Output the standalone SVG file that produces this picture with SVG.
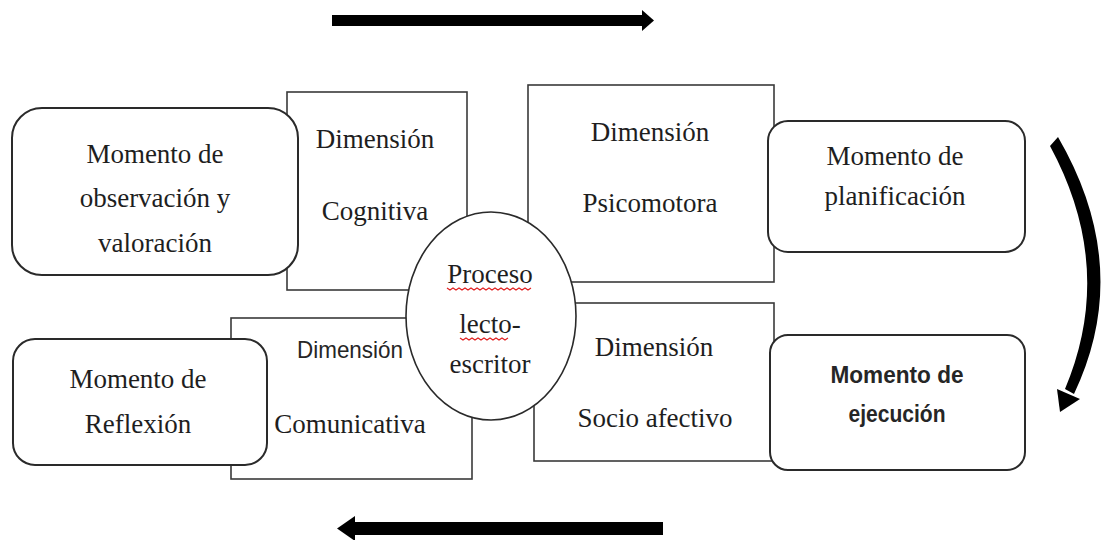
<svg xmlns="http://www.w3.org/2000/svg" width="1101" height="540" viewBox="0 0 1101 540">
<style>
.dim{fill:#fff;stroke:#3a3a3a;stroke-width:1.6}
.mom{fill:#fff;stroke:#2a2a2a;stroke-width:2}
.ser{font-family:"Liberation Serif","Times New Roman",serif;font-size:27px;fill:#1e1e1e;text-anchor:middle}
.san{font-family:"Liberation Sans",Arial,sans-serif;fill:#262626;text-anchor:middle}
.arr{fill:#000}
.sq{fill:none;stroke:#e02020;stroke-width:1.2}
</style>
<rect width="1101" height="540" fill="#fff"/>
<g id="connectors">
  <g id="arrow-top">
    <rect class="arr" x="332" y="15" width="312" height="11"/>
    <polygon class="arr" points="642,10 654,20.5 642,31"/>
  </g>
  <g id="arrow-bottom">
    <rect class="arr" x="352" y="522" width="311" height="13"/>
    <polygon class="arr" points="355,516 337,528.5 355,541"/>
  </g>
  <g id="arrow-right">
    <path class="arr" d="M1058,137 Q1134,268 1074,394 L1065,389 Q1116,268 1050,146 Z"/>
    <polygon class="arr" points="1060,412 1057,389 1080,399"/>
  </g>
</g>
<g id="dim-cognitiva">
  <rect class="dim" x="287" y="92" width="180" height="198"/>
  <text class="ser" x="375" y="148">Dimensión</text>
  <text class="ser" x="375" y="220">Cognitiva</text>
</g>
<g id="dim-psicomotora">
  <rect class="dim" x="528" y="85" width="246" height="197"/>
  <text class="ser" x="650" y="141">Dimensión</text>
  <text class="ser" x="650" y="212">Psicomotora</text>
</g>
<g id="dim-comunicativa">
  <rect class="dim" x="231" y="318" width="241" height="161"/>
  <text class="san" x="350" y="358" font-size="24" textLength="106" lengthAdjust="spacingAndGlyphs">Dimensión</text>
  <text class="ser" x="350" y="433">Comunicativa</text>
</g>
<g id="dim-socio">
  <rect class="dim" x="534" y="303" width="240" height="158"/>
  <text class="ser" x="654" y="356">Dimensión</text>
  <text class="ser" x="655" y="427">Socio afectivo</text>
</g>
<g id="mom-observacion">
  <rect class="mom" x="12" y="108" width="286" height="167" rx="30"/>
  <text class="ser" x="155" y="163">Momento de</text>
  <text class="ser" x="155" y="207">observación y</text>
  <text class="ser" x="155" y="252">valoración</text>
</g>
<g id="mom-reflexion">
  <rect class="mom" x="13" y="339" width="254" height="126" rx="22"/>
  <text class="ser" x="138" y="388">Momento de</text>
  <text class="ser" x="138" y="433">Reflexión</text>
</g>
<g id="mom-planificacion">
  <rect class="mom" x="768" y="121" width="257" height="131" rx="20"/>
  <text class="ser" x="895" y="165" font-size="25">Momento de</text>
  <text class="ser" x="895" y="205" font-size="25">planificación</text>
</g>
<g id="mom-ejecucion">
  <rect class="mom" x="770" y="335" width="255" height="135" rx="18"/>
  <text class="san" x="897" y="383" font-size="23" font-weight="bold" textLength="133" lengthAdjust="spacingAndGlyphs">Momento de</text>
  <text class="san" x="897" y="422" font-size="23" font-weight="bold" textLength="97" lengthAdjust="spacingAndGlyphs">ejecución</text>
</g>
<g id="proceso">
  <ellipse cx="491" cy="316" rx="85" ry="104" fill="#fff" stroke="#2a2a2a" stroke-width="1.6"/>
  <text class="ser" x="490" y="283">Proceso</text>
  <text class="ser" x="490" y="333">lecto-</text>
  <text class="ser" x="490" y="373">escritor</text>
  <path class="sq" d="M447,288 l3,2 3,-2 3,2 3,-2 3,2 3,-2 3,2 3,-2 3,2 3,-2 3,2 3,-2 3,2 3,-2 3,2 3,-2 3,2 3,-2 3,2 3,-2 3,2 3,-2 3,2 3,-2 3,2 3,-2 3,2 3,-2"/>
  <path class="sq" d="M460,338 l3,2 3,-2 3,2 3,-2 3,2 3,-2 3,2 3,-2 3,2 3,-2 3,2 3,-2 3,2 3,-2 3,2 3,-2"/>
</g>
</svg>
